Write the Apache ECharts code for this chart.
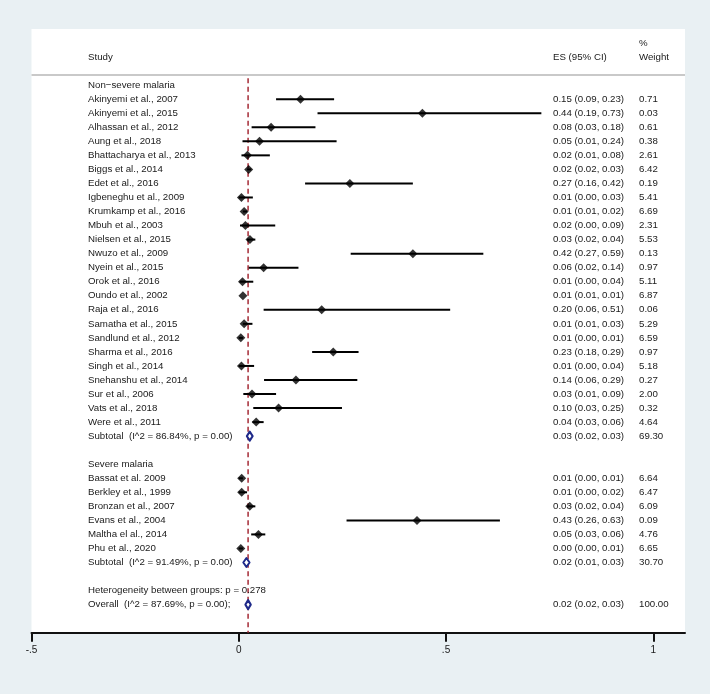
<!DOCTYPE html>
<html><head><meta charset="utf-8">
<script src="https://cdn.jsdelivr.net/npm/echarts@6/dist/echarts.min.js"></script>
<style>html,body{margin:0;padding:0;background:#e9f0f3}#c{width:710px;height:694px}</style>
</head><body><div id="c"></div><script>
// ---------------- data ----------------
const nonSevereStudies = ["Akinyemi et al., 2007","Akinyemi et al., 2015","Alhassan et al., 2012","Aung et al., 2018","Bhattacharya et al., 2013","Biggs et al., 2014","Edet et al., 2016","Igbeneghu et al., 2009","Krumkamp et al., 2016","Mbuh et al., 2003","Nielsen et al., 2015","Nwuzo et al., 2009","Nyein et al., 2015","Orok et al., 2016","Oundo et al., 2002","Raja et al., 2016","Samatha et al., 2015","Sandlund et al., 2012","Sharma et al., 2016","Singh et al., 2014","Snehanshu et al., 2014","Sur et al., 2006","Vats et al., 2018","Were et al., 2011"];
const nonSevereCI = ["0.15 (0.09, 0.23)","0.44 (0.19, 0.73)","0.08 (0.03, 0.18)","0.05 (0.01, 0.24)","0.02 (0.01, 0.08)","0.02 (0.02, 0.03)","0.27 (0.16, 0.42)","0.01 (0.00, 0.03)","0.01 (0.01, 0.02)","0.02 (0.00, 0.09)","0.03 (0.02, 0.04)","0.42 (0.27, 0.59)","0.06 (0.02, 0.14)","0.01 (0.00, 0.04)","0.01 (0.01, 0.01)","0.20 (0.06, 0.51)","0.01 (0.01, 0.03)","0.01 (0.00, 0.01)","0.23 (0.18, 0.29)","0.01 (0.00, 0.04)","0.14 (0.06, 0.29)","0.03 (0.01, 0.09)","0.10 (0.03, 0.25)","0.04 (0.03, 0.06)"];
const nonSevereWeight = ["0.71","0.03","0.61","0.38","2.61","6.42","0.19","5.41","6.69","2.31","5.53","0.13","0.97","5.11","6.87","0.06","5.29","6.59","0.97","5.18","0.27","2.00","0.32","4.64"];
const nonSevereES = [0.149,0.443,0.078,0.050,0.021,0.024,0.268,0.0065,0.013,0.016,0.027,0.42,0.060,0.009,0.010,0.200,0.013,0.005,0.228,0.0065,0.138,0.032,0.096,0.042];
const nonSevereLo = [0.09,0.19,0.031,0.009,0.0065,0.02,0.16,0.00,0.01,0.003,0.02,0.27,0.024,0.002,0.01,0.06,0.01,0.00,0.177,0.00,0.061,0.011,0.035,0.033];
const nonSevereHi = [0.23,0.73,0.185,0.236,0.075,0.03,0.42,0.034,0.02,0.088,0.04,0.59,0.144,0.035,0.01,0.51,0.033,0.01,0.289,0.037,0.286,0.09,0.249,0.06];

const severeStudies = ["Bassat et al. 2009","Berkley et al., 1999","Bronzan et al., 2007","Evans et al., 2004","Maltha el al., 2014","Phu et al., 2020"];
const severeCI = ["0.01 (0.00, 0.01)","0.01 (0.00, 0.02)","0.03 (0.02, 0.04)","0.43 (0.26, 0.63)","0.05 (0.03, 0.06)","0.00 (0.00, 0.01)"];
const severeWeight = ["6.64","6.47","6.09","0.09","4.76","6.65"];
const severeES = [0.007,0.007,0.0265,0.43,0.0475,0.005];
const severeLo = [0.00,0.00,0.02,0.26,0.03,0.00];
const severeHi = [0.01,0.02,0.04,0.63,0.064,0.01];

const groupNames = ["Non\u2212severe malaria","Severe malaria"];
const pooledLabels = ["Subtotal  (I^2 = 86.84%, p = 0.00)","Subtotal  (I^2 = 91.49%, p = 0.00)","Overall  (I^2 = 87.69%, p = 0.00);"];
const pooledCI = ["0.03 (0.02, 0.03)","0.02 (0.01, 0.03)","0.02 (0.02, 0.03)"];
const pooledWeight = ["69.30","30.70","100.00"];
const pooledES = [0.0265,0.0185,0.0225];
const pooledLo = [0.0195,0.0110,0.0160];
const pooledHi = [0.0335,0.0260,0.0290];
const heterogeneityText = "Heterogeneity between groups: p = 0.278";

const headerStudy = "Study", headerES = "ES (95% CI)", headerPct = "%", headerWeight = "Weight";
const xTicks = [-0.5, 0, 0.5, 1];
const xTickLabels = ["-.5","0",".5","1"];

// ---------------- rows ----------------
const textRows = [];   // [row, label, ci, weight]
const studyRows = [];  // [es, lo, hi, row]
const pooledRows = []; // [lo, es, hi, row]
let r = 0;
function addGroup(gi, names, ci, w, es, lo, hi) {
  textRows.push([r, groupNames[gi], "", ""]); r++;
  names.forEach((n, i) => {
    textRows.push([r, n, ci[i], w[i]]);
    studyRows.push([es[i], lo[i], hi[i], r]);
    r++;
  });
  textRows.push([r, pooledLabels[gi], pooledCI[gi], pooledWeight[gi]]);
  pooledRows.push([pooledLo[gi], pooledES[gi], pooledHi[gi], r]);
  r += 2;
}
addGroup(0, nonSevereStudies, nonSevereCI, nonSevereWeight, nonSevereES, nonSevereLo, nonSevereHi);
addGroup(1, severeStudies, severeCI, severeWeight, severeES, severeLo, severeHi);
textRows.push([r, heterogeneityText, "", ""]); r++;
textRows.push([r, pooledLabels[2], pooledCI[2], pooledWeight[2]]);
pooledRows.push([pooledLo[2], pooledES[2], pooledHi[2], r]);
const headerRows = [[-3, "", "", headerPct], [-2, headerStudy, headerES, headerWeight]];
const allTextRows = headerRows.concat(textRows);

const FONT = "'Liberation Sans', Arial, Helvetica, sans-serif";
const TXT = '#1a1a1a';
const FS = 9.7;
const COL_STUDY = 88, COL_ES = 553, COL_W = 639;
const X_MIN = -0.5, X_MAX = 1.0765;

const chart = echarts.init(document.getElementById('c'), null, {renderer: 'canvas'});

function txt(x, y, s) {
  return {type: 'text', style: {x: x, y: y, text: s, fill: TXT, font: FS + 'px ' + FONT, textVerticalAlign: 'middle', verticalAlign: 'middle'}};
}

chart.setOption({
  backgroundColor: '#e9f0f3',
  animation: false,
  grid: {left: 31.5, right: 25, top: 29, bottom: 61.3, show: true, backgroundColor: '#ffffff', borderWidth: 0},
  xAxis: {
    type: 'value', min: X_MIN, max: X_MAX, interval: 0.5,
    axisLine: {show: true, onZero: false, lineStyle: {color: '#111', width: 2}},
    axisTick: {show: true, length: 9, customValues: xTicks, lineStyle: {color: '#111', width: 2}},
    axisLabel: {margin: 13, fontSize: 10, color: TXT, fontFamily: FONT, customValues: xTicks,
      formatter: v => { const i = xTicks.findIndex(t => Math.abs(t - v) < 1e-9); return i >= 0 ? xTickLabels[i] : ''; }},
    splitLine: {show: false}
  },
  yAxis: {type: 'value', inverse: true, min: -4, max: 39, show: false},
  series: [
    { // header line
      type: 'custom', silent: true, clip: false,
      data: [[-0.72]],
      renderItem: (p, api) => {
        const a = api.coord([X_MIN, api.value(0)]), b = api.coord([X_MAX, api.value(0)]);
        return {type: 'line', shape: {x1: a[0], y1: a[1], x2: b[0], y2: b[1]}, style: {stroke: '#c9c9c9', lineWidth: 2}};
      }
    },
    { // reference dashed line at overall ES
      type: 'line', silent: true, symbol: 'none', z: 1,
      data: [[pooledES[2], -0.5], [pooledES[2], 39]],
      lineStyle: {color: '#a52a35', width: 1.5, type: [5, 3.5]}
    },
    { // CI lines
      type: 'custom', silent: true, z: 3,
      data: studyRows,
      renderItem: (p, api) => {
        const a = api.coord([api.value(1), api.value(3)]), b = api.coord([api.value(2), api.value(3)]);
        return {type: 'line', shape: {x1: a[0], y1: a[1], x2: b[0], y2: b[1]}, style: {stroke: '#000', lineWidth: 2}};
      }
    },
    { // point estimates
      type: 'scatter', silent: true, z: 4,
      symbol: 'diamond', symbolSize: 9,
      itemStyle: {color: '#000'},
      data: studyRows.map(d => [d[0], d[3]])
    },
    { // pooled diamonds
      type: 'custom', silent: true, z: 5,
      data: pooledRows,
      renderItem: (p, api) => {
        const y = api.value(3);
        const l = api.coord([api.value(0), y]), c = api.coord([api.value(1), y]), h = api.coord([api.value(2), y]);
        const hh = 4.5;
        return {type: 'polygon', shape: {points: [[l[0], l[1]], [c[0], c[1] - hh], [h[0], h[1]], [c[0], c[1] + hh]]},
          style: {fill: '#fff', stroke: '#1f2a8a', lineWidth: 2, lineJoin: 'round'}};
      }
    },
    { // table text
      type: 'custom', silent: true, clip: false, z: 6,
      data: allTextRows.map(d => [d[0]]),
      renderItem: (p, api) => {
        const d = allTextRows[p.dataIndex];
        const y = api.coord([0, d[0]])[1];
        const ch = [];
        if (d[1]) ch.push(txt(COL_STUDY, y, d[1]));
        if (d[2]) ch.push(txt(COL_ES, y, d[2]));
        if (d[3]) ch.push(txt(COL_W, y, d[3]));
        return {type: 'group', children: ch};
      }
    }
  ]
});
</script></body></html>
